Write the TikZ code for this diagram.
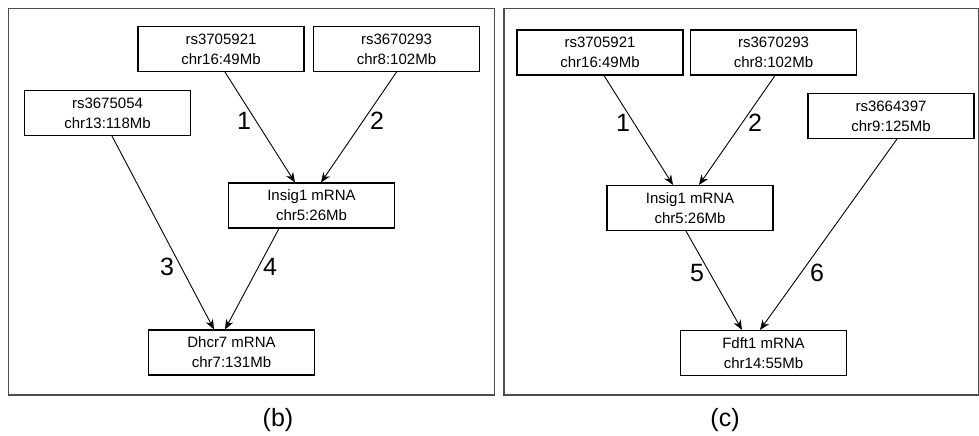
\documentclass[tikz,border=0pt]{standalone}
\usepackage{fontspec}
\setmainfont{Liberation Sans}
\usetikzlibrary{arrows.meta}

\begin{document}
\begin{tikzpicture}[x=0.5pt,y=-0.5pt,
  locus/.style={shape=rectangle,draw=black,line width=0.55pt,minimum width=83pt,minimum height=22.5pt,inner sep=0pt,align=center,font=\fontsize{7.5}{10}\selectfont},
  link/.style={line width=0.45pt,-{Stealth[length=5pt,width=4pt,inset=1.6pt]}},
  num/.style={font=\fontsize{12.5}{14}\selectfont},
  panel/.style={draw=black!70,line width=0.75pt}]
\useasboundingbox (0,0) rectangle (979,435);

% panel (b)
\draw[panel] (8.5,8.5) rectangle (494.5,395);

\node[locus] (A) at (221,49) {rs3705921\\chr16:49Mb};
\node[locus] (B) at (396.5,49) {rs3670293\\chr8:102Mb};
\node[locus] (C) at (107.5,113) {rs3675054\\chr13:118Mb};
\node[locus] (I) at (311.5,205.5) {Insig1 mRNA\\chr5:26Mb};
\node[locus] (D) at (231.5,352.5) {Dhcr7 mRNA\\chr7:131Mb};

\draw[link] ([xshift=2pt]A.south) -- ([xshift=-8.25pt]I.north);
\draw[link] (B.south) -- ([xshift=4.75pt]I.north);
\draw[link] ([xshift=2.25pt]C.south) -- ([xshift=-8.75pt]D.north);
\draw[link] ([xshift=-16.25pt]I.south) -- ([xshift=-3.25pt]D.north);

\node[num] (n1) at (244,121) {1};
\node[num] (n2) at (377,121) {2};
\node[num] (n3) at (167,267) {3};
\node[num] (n4) at (270,267) {4};

\node[num] (capb) at (278,420) {(b)};

% panel (c)
\draw[panel] (504,8.5) rectangle (978.5,395);

\node[locus] (A2) at (600,52.5) {rs3705921\\chr16:49Mb};
\node[locus] (B2) at (773.5,52.5) {rs3670293\\chr8:102Mb};
\node[locus] (E) at (891,116) {rs3664397\\chr9:125Mb};
\node[locus] (I2) at (690,208) {Insig1 mRNA\\chr5:26Mb};
\node[locus] (F) at (763.5,353) {Fdft1 mRNA\\chr14:55Mb};

\draw[link] ([xshift=2pt]A2.south) -- ([xshift=-8.5pt]I2.north);
\draw[link] ([xshift=0.75pt]B2.south) -- ([xshift=4.5pt]I2.north);
\draw[link] ([xshift=-2pt]I2.south) -- ([xshift=-10.75pt]F.north);
\draw[link] ([xshift=3pt]E.south) -- ([xshift=-1.75pt]F.north);

\node[num] (m1) at (623,123) {1};
\node[num] (m2) at (755,123) {2};
\node[num] (m5) at (697,273) {5};
\node[num] (m6) at (817,273) {6};

\node[num] (capc) at (725,420) {(c)};
\end{tikzpicture}
\end{document}
